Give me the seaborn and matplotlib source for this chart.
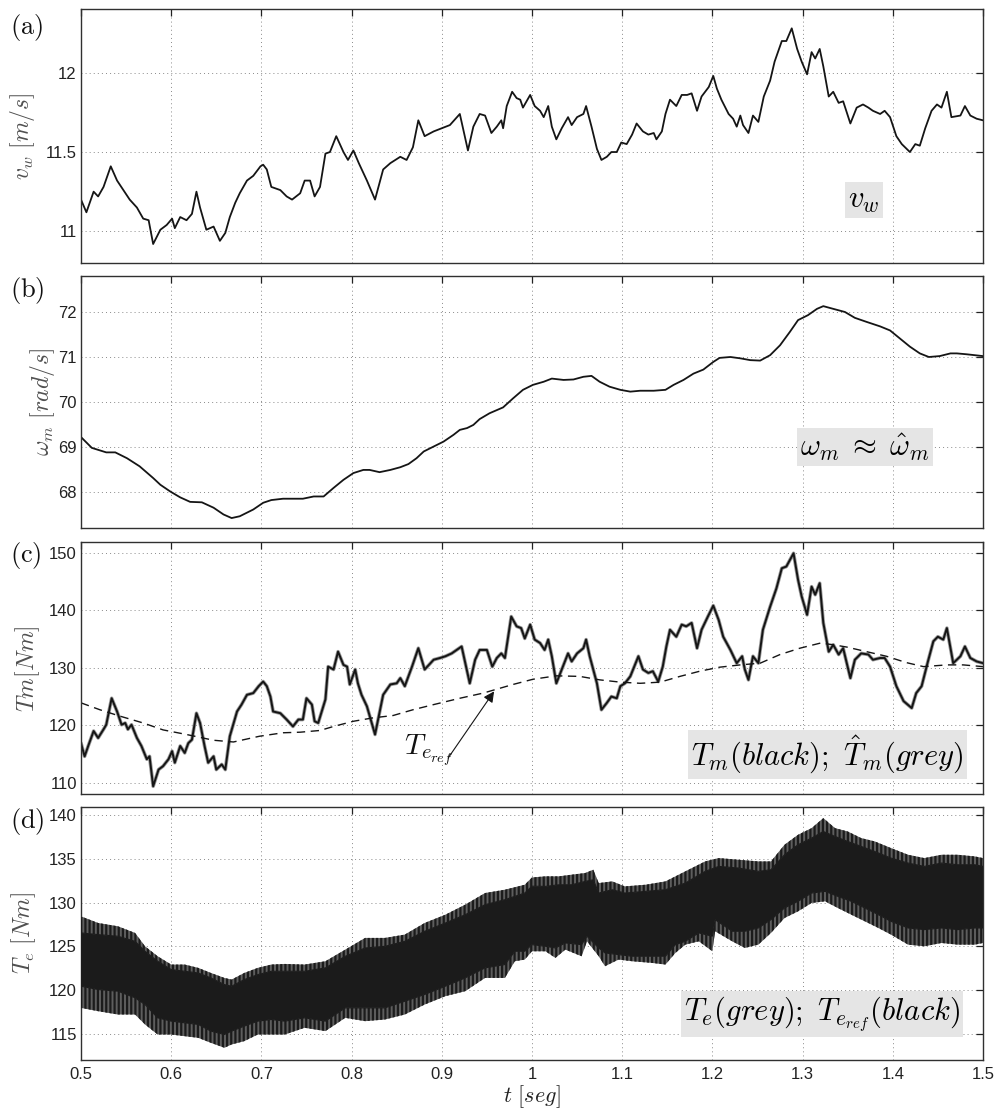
import numpy as np
import matplotlib
matplotlib.use("Agg")
import matplotlib.pyplot as plt
import seaborn as sns

# ---------------- data ----------------
# common time axis
x_ticks = [0.5, 0.6, 0.7, 0.8, 0.9, 1.0, 1.1, 1.2, 1.3, 1.4, 1.5]

# (a) wind speed v_w [m/s]
t_vw = [0.500, 0.506, 0.514, 0.519, 0.525, 0.533, 0.540, 0.547, 0.554, 0.562,
        0.569, 0.575, 0.580, 0.588, 0.595, 0.601, 0.604, 0.610, 0.617, 0.623,
        0.628, 0.632, 0.639, 0.647, 0.654, 0.660, 0.665, 0.671, 0.676, 0.684,
        0.691, 0.699, 0.702, 0.706, 0.711, 0.721, 0.728, 0.734, 0.743, 0.748,
        0.754, 0.759, 0.765, 0.771, 0.776, 0.783, 0.791, 0.796, 0.802, 0.808,
        0.817, 0.826, 0.835, 0.843, 0.854, 0.861, 0.868, 0.874, 0.881, 0.891,
        0.900, 0.909, 0.920, 0.929, 0.935, 0.942, 0.948, 0.955, 0.961, 0.966,
        0.968, 0.972, 0.978, 0.983, 0.987, 0.990, 0.998, 1.003, 1.009, 1.013,
        1.018, 1.022, 1.027, 1.033, 1.040, 1.044, 1.050, 1.057, 1.060, 1.066,
        1.072, 1.077, 1.083, 1.088, 1.094, 1.099, 1.105, 1.111, 1.116, 1.123,
        1.129, 1.135, 1.138, 1.144, 1.148, 1.153, 1.160, 1.166, 1.172, 1.177,
        1.183, 1.188, 1.196, 1.201, 1.205, 1.210, 1.218, 1.223, 1.227, 1.231,
        1.234, 1.240, 1.245, 1.251, 1.257, 1.264, 1.269, 1.277, 1.282, 1.288,
        1.294, 1.299, 1.305, 1.310, 1.314, 1.319, 1.323, 1.329, 1.334, 1.340,
        1.345, 1.353, 1.360, 1.367, 1.373, 1.378, 1.386, 1.391, 1.397, 1.404,
        1.410, 1.419, 1.425, 1.430, 1.436, 1.443, 1.449, 1.454, 1.460, 1.465,
        1.475, 1.480, 1.486, 1.493, 1.500]
v_w = [11.20, 11.12, 11.25, 11.22, 11.28, 11.41, 11.32, 11.26, 11.20, 11.15,
       11.08, 11.07, 10.92, 11.01, 11.04, 11.08, 11.02, 11.09, 11.07, 11.11,
       11.25, 11.15, 11.01, 11.03, 10.94, 10.99, 11.09, 11.18, 11.24, 11.32,
       11.35, 11.41, 11.42, 11.39, 11.28, 11.26, 11.22, 11.20, 11.24, 11.32,
       11.32, 11.22, 11.28, 11.49, 11.50, 11.60, 11.50, 11.45, 11.51, 11.43,
       11.32, 11.20, 11.39, 11.43, 11.47, 11.45, 11.53, 11.70, 11.60, 11.63,
       11.65, 11.67, 11.74, 11.51, 11.66, 11.74, 11.73, 11.62, 11.66, 11.70,
       11.65, 11.79, 11.88, 11.84, 11.83, 11.78, 11.86, 11.79, 11.76, 11.72,
       11.79, 11.66, 11.58, 11.65, 11.72, 11.67, 11.72, 11.74, 11.79, 11.66,
       11.52, 11.45, 11.47, 11.50, 11.50, 11.56, 11.55, 11.61, 11.68, 11.63,
       11.61, 11.62, 11.58, 11.63, 11.74, 11.83, 11.79, 11.86, 11.86, 11.87,
       11.76, 11.85, 11.91, 11.98, 11.90, 11.83, 11.74, 11.71, 11.66, 11.73,
       11.67, 11.62, 11.73, 11.69, 11.85, 11.95, 12.07, 12.20, 12.20, 12.28,
       12.15, 12.07, 11.99, 12.13, 12.09, 12.15, 12.04, 11.85, 11.88, 11.81,
       11.82, 11.68, 11.78, 11.80, 11.78, 11.76, 11.74, 11.76, 11.72, 11.60,
       11.55, 11.50, 11.55, 11.54, 11.65, 11.76, 11.80, 11.78, 11.88, 11.72,
       11.73, 11.79, 11.73, 11.71, 11.70]

# (b) rotor speed omega_m [rad/s]
t_wm = [0.500, 0.512, 0.528, 0.538, 0.551, 0.565, 0.580, 0.588, 0.599, 0.610,
        0.621, 0.634, 0.647, 0.658, 0.667, 0.676, 0.691, 0.702, 0.711, 0.724,
        0.735, 0.746, 0.758, 0.769, 0.780, 0.791, 0.802, 0.813, 0.820, 0.831,
        0.843, 0.854, 0.863, 0.872, 0.880, 0.891, 0.902, 0.913, 0.920, 0.928,
        0.935, 0.942, 0.953, 0.968, 0.979, 0.990, 1.001, 1.013, 1.022, 1.035,
        1.046, 1.057, 1.066, 1.075, 1.086, 1.098, 1.109, 1.120, 1.135, 1.148,
        1.157, 1.168, 1.179, 1.190, 1.201, 1.208, 1.220, 1.231, 1.242, 1.253,
        1.264, 1.275, 1.286, 1.295, 1.306, 1.316, 1.323, 1.334, 1.347, 1.358,
        1.371, 1.386, 1.397, 1.408, 1.419, 1.430, 1.440, 1.452, 1.464, 1.471,
        1.482, 1.500]
w_m = [69.22, 68.98, 68.88, 68.88, 68.75, 68.57, 68.31, 68.16, 68.01, 67.88,
       67.78, 67.77, 67.65, 67.50, 67.42, 67.46, 67.61, 67.76, 67.82, 67.85,
       67.85, 67.85, 67.90, 67.90, 68.09, 68.27, 68.42, 68.49, 68.49, 68.44,
       68.49, 68.55, 68.62, 68.75, 68.90, 69.01, 69.12, 69.27, 69.38, 69.42,
       69.49, 69.62, 69.75, 69.88, 70.08, 70.27, 70.38, 70.45, 70.52, 70.49,
       70.50, 70.56, 70.58, 70.45, 70.34, 70.27, 70.23, 70.25, 70.25, 70.27,
       70.38, 70.49, 70.63, 70.72, 70.89, 70.98, 71.00, 70.97, 70.93, 70.92,
       71.04, 71.26, 71.56, 71.82, 71.93, 72.07, 72.13, 72.07, 72.00, 71.87,
       71.78, 71.68, 71.59, 71.41, 71.23, 71.08, 71.00, 71.02, 71.08, 71.08,
       71.06, 71.02]

# (c) mechanical torque T_m [Nm]
t_tm = [0.500, 0.504, 0.508, 0.514, 0.519, 0.525, 0.528, 0.534, 0.540, 0.545,
        0.549, 0.552, 0.556, 0.562, 0.567, 0.573, 0.576, 0.580, 0.586, 0.591,
        0.597, 0.601, 0.604, 0.610, 0.615, 0.619, 0.623, 0.628, 0.632, 0.637,
        0.641, 0.647, 0.650, 0.656, 0.660, 0.665, 0.673, 0.678, 0.684, 0.691,
        0.697, 0.702, 0.706, 0.710, 0.713, 0.721, 0.728, 0.735, 0.741, 0.746,
        0.750, 0.756, 0.759, 0.763, 0.771, 0.774, 0.780, 0.785, 0.791, 0.795,
        0.798, 0.804, 0.807, 0.811, 0.817, 0.826, 0.835, 0.843, 0.850, 0.854,
        0.859, 0.867, 0.874, 0.881, 0.891, 0.898, 0.904, 0.911, 0.922, 0.931,
        0.937, 0.942, 0.950, 0.956, 0.961, 0.966, 0.970, 0.977, 0.983, 0.988,
        0.992, 0.998, 1.003, 1.009, 1.014, 1.018, 1.022, 1.027, 1.033, 1.040,
        1.044, 1.050, 1.057, 1.060, 1.064, 1.072, 1.077, 1.083, 1.088, 1.094,
        1.098, 1.103, 1.109, 1.118, 1.123, 1.129, 1.134, 1.140, 1.145, 1.149,
        1.153, 1.160, 1.166, 1.171, 1.177, 1.183, 1.188, 1.195, 1.201, 1.207,
        1.212, 1.220, 1.227, 1.233, 1.236, 1.240, 1.245, 1.251, 1.256, 1.264,
        1.271, 1.277, 1.282, 1.290, 1.295, 1.299, 1.305, 1.310, 1.314, 1.319,
        1.323, 1.329, 1.334, 1.340, 1.345, 1.353, 1.358, 1.365, 1.373, 1.378,
        1.386, 1.391, 1.397, 1.404, 1.412, 1.421, 1.426, 1.432, 1.439, 1.445,
        1.450, 1.456, 1.460, 1.467, 1.475, 1.480, 1.486, 1.493, 1.500]
T_m = [116.9, 114.6, 116.4, 119.0, 117.8, 119.3, 120.1, 124.7, 122.4, 120.1,
       120.4, 119.3, 120.1, 117.8, 116.4, 114.1, 114.6, 109.4, 112.3, 112.9,
       114.1, 115.5, 113.5, 116.4, 115.2, 116.9, 117.5, 122.1, 120.4, 116.4,
       113.5, 114.6, 112.3, 113.2, 112.3, 118.1, 122.4, 123.6, 125.3, 125.6,
       126.8, 127.6, 126.8, 125.0, 122.4, 122.1, 121.0, 119.8, 121.0, 121.0,
       124.7, 123.6, 120.7, 120.4, 124.5, 130.2, 129.7, 132.8, 130.5, 130.2,
       127.1, 129.7, 127.3, 125.3, 123.3, 118.4, 125.3, 127.1, 127.3, 128.2,
       126.8, 130.2, 133.4, 129.7, 131.4, 131.7, 132.0, 132.5, 133.7, 127.3,
       131.4, 133.1, 133.1, 130.2, 131.7, 132.5, 131.7, 138.9, 137.2, 136.9,
       135.1, 137.5, 134.9, 134.3, 133.1, 134.9, 132.0, 127.3, 129.7, 132.5,
       131.1, 132.5, 133.4, 134.9, 132.0, 127.3, 122.7, 123.9, 125.0, 124.7,
       126.8, 127.3, 128.5, 132.0, 129.7, 129.1, 129.4, 127.6, 130.2, 133.7,
       136.6, 135.4, 137.5, 137.2, 137.8, 133.4, 136.6, 138.9, 140.8, 138.3,
       135.4, 133.1, 130.8, 132.0, 129.7, 127.9, 132.0, 130.8, 136.6, 140.6,
       143.8, 147.3, 147.6, 149.9, 145.3, 142.4, 139.2, 144.1, 142.7, 144.7,
       137.8, 132.8, 134.0, 132.3, 133.4, 128.2, 131.4, 132.5, 132.3, 131.4,
       131.7, 131.7, 130.2, 126.8, 124.2, 123.0, 125.6, 126.8, 131.1, 134.6,
       135.4, 134.9, 136.9, 130.8, 132.0, 133.7, 131.7, 131.1, 130.8]

# (c) electrical torque reference T_e_ref [Nm] (dashed)
t_ref = [0.500, 0.521, 0.543, 0.569, 0.591, 0.617, 0.647, 0.669, 0.698, 0.724,
         0.743, 0.765, 0.780, 0.802, 0.824, 0.846, 0.868, 0.891, 0.920, 0.946,
         0.979, 1.001, 1.027, 1.053, 1.075, 1.098, 1.120, 1.142, 1.164, 1.186,
         1.208, 1.231, 1.253, 1.275, 1.297, 1.320, 1.334, 1.349, 1.371, 1.393,
         1.415, 1.434, 1.460, 1.478, 1.500]
T_ref = [123.9, 122.7, 121.6, 120.4, 119.2, 118.4, 117.4, 117.1, 118.1, 118.7,
         118.8, 119.1, 119.8, 120.7, 121.3, 121.7, 122.7, 123.6, 124.7, 125.6,
         127.1, 128.0, 128.6, 128.5, 127.9, 127.5, 127.3, 127.5, 128.5, 129.4,
         130.1, 130.5, 130.8, 132.3, 133.4, 134.3, 134.0, 133.6, 132.8, 132.0,
         130.9, 130.2, 130.5, 130.5, 130.2]
ref_arrow_tip = (0.958, 125.9)
ref_arrow_tail = (0.907, 114.3)
ref_label_pos = (0.885, 115.7)

# (d) electrical torque T_e [Nm]: upper edge (spike tips / dense band)
t_te_up = [0.500, 0.519, 0.541, 0.560, 0.571, 0.585, 0.600, 0.615, 0.630, 0.644,
           0.659, 0.667, 0.681, 0.696, 0.711, 0.726, 0.748, 0.771, 0.793, 0.815,
           0.837, 0.859, 0.881, 0.904, 0.926, 0.948, 0.970, 0.992, 1.000, 1.015,
           1.030, 1.044, 1.059, 1.068, 1.074, 1.089, 1.103, 1.126, 1.148, 1.170,
           1.192, 1.207, 1.229, 1.251, 1.265, 1.280, 1.295, 1.310, 1.323, 1.336,
           1.350, 1.365, 1.380, 1.398, 1.417, 1.435, 1.454, 1.472, 1.491, 1.500]
te_up_tip = [128.45, 127.69, 127.31, 126.55, 125.02, 123.88, 122.93, 122.93, 122.55, 121.97,
             121.40, 121.21, 121.97, 122.55, 122.93, 123.00, 122.93, 123.31, 124.64, 125.98,
             125.98, 126.36, 127.69, 128.64, 129.79, 131.12, 131.50, 132.07, 132.90, 133.03,
             133.03, 133.22, 133.41, 133.79, 132.26, 132.45, 131.88, 132.07, 132.45, 133.60,
             134.74, 135.12, 134.93, 134.74, 134.74, 136.65, 137.79, 138.55, 139.70, 138.55,
             138.17, 137.41, 137.03, 136.27, 135.50, 135.12, 135.50, 135.50, 135.31, 135.12]
te_up_band = [126.55, 126.36, 126.17, 125.59, 124.45, 123.31, 122.36, 122.16, 121.97, 121.40,
              120.64, 120.45, 121.21, 121.78, 122.16, 122.16, 122.16, 122.55, 123.88, 124.83,
              125.02, 125.59, 126.74, 127.69, 128.64, 129.79, 130.36, 131.12, 131.90, 131.88,
              132.07, 132.07, 132.45, 132.64, 131.12, 131.50, 131.12, 131.31, 131.50, 132.26,
              133.60, 134.17, 133.98, 133.60, 133.79, 135.50, 136.65, 137.41, 138.17, 137.60,
              137.03, 136.46, 135.88, 135.12, 134.55, 134.17, 134.55, 134.36, 134.36, 134.17]

# (d) lower edge (dense band / spike tips)
t_te_lo = [0.500, 0.519, 0.541, 0.560, 0.571, 0.585, 0.600, 0.615, 0.630, 0.644,
           0.659, 0.667, 0.681, 0.696, 0.711, 0.726, 0.748, 0.771, 0.793, 0.815,
           0.837, 0.859, 0.881, 0.904, 0.926, 0.948, 0.970, 0.981, 0.992, 1.000,
           1.015, 1.026, 1.037, 1.055, 1.061, 1.074, 1.081, 1.096, 1.111, 1.133,
           1.148, 1.159, 1.170, 1.185, 1.200, 1.203, 1.222, 1.236, 1.251, 1.265,
           1.280, 1.295, 1.310, 1.325, 1.339, 1.354, 1.369, 1.384, 1.398, 1.417,
           1.435, 1.454, 1.472, 1.491, 1.500]
te_lo_band = [120.45, 120.07, 119.88, 119.12, 118.35, 116.83, 116.45, 116.26, 116.07, 115.31,
              114.92, 115.31, 115.88, 116.45, 116.64, 116.45, 116.83, 116.45, 117.97, 117.97,
              117.97, 118.73, 119.50, 120.45, 121.40, 122.55, 122.93, 124.45, 124.45, 125.21,
              125.02, 124.83, 125.40, 125.21, 126.17, 124.83, 124.26, 124.07, 123.88, 123.88,
              123.88, 125.21, 125.59, 126.55, 126.17, 128.07, 126.74, 126.74, 127.12, 128.07,
              129.41, 130.17, 131.12, 131.31, 130.74, 130.17, 129.41, 128.64, 127.88, 127.12,
              126.93, 127.12, 126.93, 127.12, 127.12]
te_lo_tip = [117.97, 117.59, 117.21, 117.21, 116.07, 114.92, 114.92, 114.73, 114.54, 113.97,
             113.40, 113.78, 114.16, 114.92, 114.92, 114.92, 115.69, 115.31, 116.83, 116.45,
             116.64, 117.21, 118.35, 119.31, 119.88, 121.40, 121.40, 123.31, 123.50, 124.45,
             124.45, 123.69, 124.64, 123.88, 125.59, 123.88, 122.74, 123.50, 123.31, 123.12,
             122.93, 124.26, 125.21, 125.59, 124.45, 126.74, 125.59, 124.83, 125.21, 126.55,
             128.26, 129.02, 129.98, 130.17, 129.41, 128.64, 127.88, 127.12, 126.36, 125.21,
             125.02, 125.40, 125.21, 125.21, 125.40]

# axis ranges and ticks
ylims = [(10.8, 12.4), (67.2, 72.8), (108.0, 151.8), (112.0, 141.0)]
yticks = [[11, 11.5, 12], [68, 69, 70, 71, 72], [110, 120, 130, 140, 150],
          [115, 120, 125, 130, 135, 140]]
ylabels = [r"$v_w\ [m/s]$", r"$\omega_m\ [rad/s]$", r"$Tm[Nm]$", r"$T_e\ [Nm]$"]
panel_tags = ["(a)", "(b)", "(c)", "(d)"]
box_texts = [r"$v_w$", r"$\omega_m \;\approx\; \hat{\omega}_m$",
             r"$T_m(black);\ \hat{T}_m(grey)$",
             r"$T_e(grey);\ T_{e_{ref}}(black)$"]

# ---------------- style ----------------
sns.set_theme(style="white")
plt.rcParams["font.family"] = ["Liberation Sans", "DejaVu Sans"]
plt.rcParams["mathtext.fontset"] = "cm"
plt.rcParams["hatch.linewidth"] = 1.6

fig = plt.figure(figsize=(9.95, 11.08), dpi=100)
rects = [(0.0814, 0.7626, 0.9065, 0.2290),
         (0.0814, 0.5235, 0.9065, 0.2274),
         (0.0814, 0.2831, 0.9065, 0.2274),
         (0.0814, 0.0433, 0.9065, 0.2286)]
axes = [fig.add_axes(r) for r in rects]

box_pos = [(0.868, 0.248), (0.869, 0.323), (0.828, 0.158), (0.822, 0.182)]
tag_y = [0.9756, 0.7374, 0.4982, 0.2590]
label_pads = [6, 1, 5, 8]

for i, ax in enumerate(axes):
    ax.set_xlim(0.5, 1.5)
    ax.set_ylim(*ylims[i])
    ax.set_xticks(x_ticks)
    ax.set_yticks(yticks[i])
    ax.set_yticklabels([f"{v:g}" for v in yticks[i]])
    if i == 3:
        ax.set_xticklabels([f"{v:g}" for v in x_ticks])
    else:
        ax.set_xticklabels([])
    ax.set_axisbelow(True)
    ax.grid(True, color="#8a8a8a", linestyle=(0, (1, 3.2)), linewidth=0.7)
    ax.tick_params(direction="in", length=5, width=0.9, top=True, right=True,
                   labelsize=12, pad=3, colors="#222222", labelcolor="#222222")
    ax.tick_params(axis="x", pad=5)
    for s in ax.spines.values():
        s.set_color("#303030")
        s.set_linewidth(1.0)
    ax.set_ylabel(ylabels[i], fontsize=17, color="#505050",
                  labelpad=label_pads[i])
    ax.set_xlabel("")
    ax.text(*box_pos[i], box_texts[i], transform=ax.transAxes, ha="center",
            va="center", fontsize=22, color="black", zorder=6,
            bbox=dict(boxstyle="square,pad=0.1", fc="#e5e5e5", ec="none"))
    fig.text(0.010, tag_y[i], r"$\mathrm{" + panel_tags[i] + "}$",
             fontsize=19, ha="left", va="center", color="#111111")

# (a)
sns.lineplot(x=t_vw, y=v_w, ax=axes[0], color="#151515", linewidth=1.3,
             estimator=None, sort=False)
# (b)
sns.lineplot(x=t_wm, y=w_m, ax=axes[1], color="#151515", linewidth=1.3,
             estimator=None, sort=False)
# (c)
sns.lineplot(x=t_tm, y=T_m, ax=axes[2], color="#9a9a9a", linewidth=2.6,
             estimator=None, sort=False)
sns.lineplot(x=t_tm, y=T_m, ax=axes[2], color="#151515", linewidth=1.4,
             estimator=None, sort=False)
sns.lineplot(x=t_ref, y=T_ref, ax=axes[2], color="#151515", linewidth=1.0,
             estimator=None, sort=False)
axes[2].lines[-1].set_dashes((6, 4))
axes[2].text(*ref_label_pos, r"$T_{e_{ref}}$", fontsize=21, ha="center",
             va="center", color="#111111")
axes[2].annotate("", xy=ref_arrow_tip, xytext=ref_arrow_tail,
                 arrowprops=dict(arrowstyle="-|>", color="#151515", lw=0.8,
                                 shrinkA=0, shrinkB=0, mutation_scale=16))

# (d) oscillating electrical torque: dense band with spiky fringe
ax = axes[3]
body = "#1b1b1b"
ax.fill_between(t_te_up, te_up_band, te_up_tip, facecolor="#5e5e5e",
                edgecolor=body, hatch="|" * 4, lw=0, zorder=3)
ax.fill_between(t_te_lo, te_lo_tip, te_lo_band, facecolor="#5e5e5e",
                edgecolor=body, hatch="|" * 4, lw=0, zorder=3)
ax.fill(np.r_[t_te_up, t_te_lo[::-1]], np.r_[te_up_band, te_lo_band[::-1]],
        facecolor=body, edgecolor=body, lw=0.8, zorder=4)
ax.set_xlabel(r"$t\ [seg]$", fontsize=16, color="#222222", labelpad=1)

fig.savefig("out.png", dpi=100)
